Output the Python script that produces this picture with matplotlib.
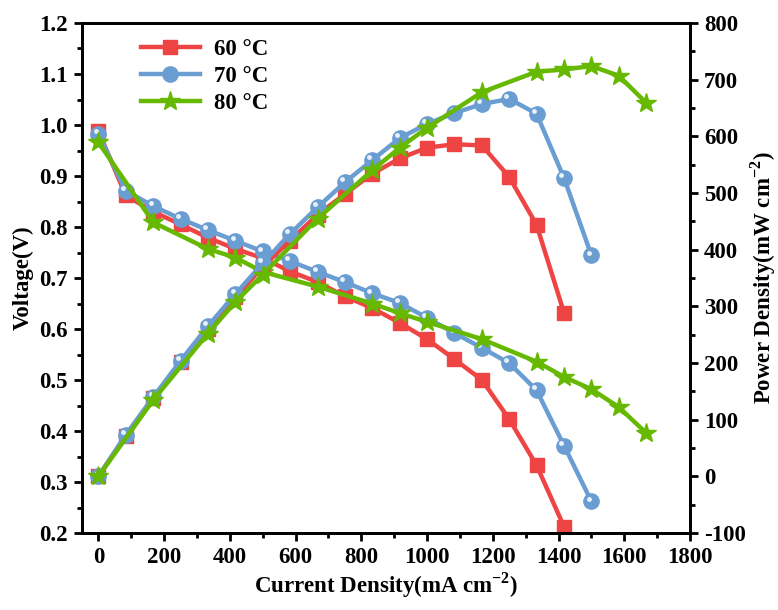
import matplotlib
matplotlib.use('Agg')
import matplotlib.pyplot as plt
import matplotlib.transforms as mtransforms
from matplotlib.ticker import MultipleLocator

plt.rcParams['font.family'] = 'Liberation Serif'
plt.rcParams['font.weight'] = 'bold'
plt.rcParams['mathtext.fontset'] = 'custom'
plt.rcParams['mathtext.rm'] = 'Liberation Serif:bold'
plt.rcParams['mathtext.bf'] = 'Liberation Serif:bold'
plt.rcParams['axes.unicode_minus'] = False

RED = '#EE4444'; BLUE = '#6A9ED2'; GREEN = '#66B800'

# ── data ──────────────────────────────────────────────────────────
i_60 = [0, 83, 167, 250, 333, 417, 500, 583, 667, 750, 833, 917, 1000, 1083, 1167, 1250, 1333, 1417]
v_60 = [0.988, 0.862, 0.830, 0.805, 0.779, 0.757, 0.739, 0.713, 0.692, 0.664, 0.641, 0.612,
        0.580, 0.541, 0.500, 0.423, 0.333, 0.212]
p_60 = [0, 72, 139, 201, 260, 316, 370, 416, 462, 498, 534, 561, 580, 586, 584, 528, 444, 288]

i_70 = [0, 83, 167, 250, 333, 417, 500, 583, 667, 750, 833, 917, 1000, 1083, 1167, 1250, 1333, 1417, 1500]
v_70 = [0.982, 0.871, 0.841, 0.816, 0.794, 0.773, 0.752, 0.733, 0.712, 0.692, 0.670, 0.651,
        0.622, 0.592, 0.563, 0.533, 0.480, 0.371, 0.262]
p_70 = [0, 73, 140, 204, 265, 322, 376, 428, 475, 519, 558, 597, 622, 641, 657, 666, 640, 526, 390]

i_80 = [0, 167, 333, 417, 500, 667, 833, 917, 1000, 1167, 1333, 1417, 1500, 1583, 1667]
v_80 = [0.966, 0.809, 0.757, 0.740, 0.712, 0.683, 0.650, 0.631, 0.614, 0.580, 0.536, 0.506,
        0.482, 0.447, 0.396]
p_80 = [0, 135, 252, 308, 356, 455, 540, 580, 615, 678, 714, 718, 724, 707, 659]

labels = ['60 °C', '70 °C', '80 °C']

fig = plt.figure(figsize=(7.78, 6.10), dpi=100)
ax = fig.add_axes([0.1054, 0.1262, 0.7815, 0.8361])
ax2 = ax.twinx()

def draw(a, x, y, legend=True):
    kw = dict(lw=3.2)
    a.plot(x[0], y[0], color=RED, marker='s', ms=10, mec=RED, label=labels[0] if legend else None, **kw)
    a.plot(x[1], y[1], color=BLUE, marker='o', ms=11, mec=BLUE, label=labels[1] if legend else None, **kw)
    # little highlight on the spheres
    off = mtransforms.offset_copy(a.transData, fig=fig, x=-2, y=2, units='points')
    a.plot(x[1], y[1], ls='none', marker='o', ms=3.5, mfc='#E8F1FA', mec='none', transform=off)
    a.plot(x[2], y[2], color=GREEN, marker='*', ms=15, mec=GREEN, label=labels[2] if legend else None, **kw)

draw(ax, [i_60, i_70, i_80], [v_60, v_70, v_80])
draw(ax2, [i_60, i_70, i_80], [p_60, p_70, p_80], legend=False)

ax.set_xlim(-50, 1800)
ax.set_ylim(0.2, 1.2)
ax2.set_ylim(-100, 800)
ax.xaxis.set_major_locator(MultipleLocator(200))
ax.xaxis.set_minor_locator(MultipleLocator(100))
ax.yaxis.set_major_locator(MultipleLocator(0.1))
ax.yaxis.set_minor_locator(MultipleLocator(0.05))
ax2.yaxis.set_major_locator(MultipleLocator(100))
ax2.yaxis.set_minor_locator(MultipleLocator(50))

for a in (ax, ax2):
    for s in a.spines.values():
        s.set_linewidth(2.0)
    a.tick_params(which='major', direction='out', length=6, width=2, labelsize=16.5, pad=4)
    a.tick_params(which='minor', direction='out', length=3.5, width=2)
ax.tick_params(axis='y', which='both', right=False)
ax.tick_params(axis='x', which='both', top=False)

ax.set_xlabel(r'Current Density(mA cm$^{\mathbf{-2}}$)', fontsize=16.5, fontweight='bold', labelpad=2)
ax.set_ylabel('Voltage(V)', fontsize=16.5, fontweight='bold', labelpad=4)
ax2.set_ylabel(r'Power Density(mW cm$^{\mathbf{-2}}$)', fontsize=16.5, fontweight='bold', labelpad=2)

ax.legend(loc='upper left', bbox_to_anchor=(0.07, 1.0), frameon=False, fontsize=16.5,
          handlelength=2.6, handletextpad=0.6, labelspacing=0.25, borderaxespad=0.3)

fig.savefig('out.png', dpi=100, facecolor='white')
